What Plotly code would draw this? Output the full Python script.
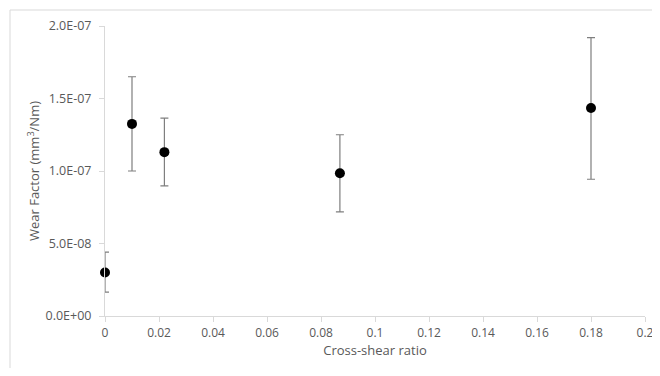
import plotly.graph_objects as go

cross_shear = [0.0, 0.01, 0.022, 0.087, 0.18]
wear_factor = [3.0e-8, 1.325e-7, 1.13e-7, 9.85e-8, 1.435e-7]
err_upper = [4.4e-8, 1.65e-7, 1.365e-7, 1.25e-7, 1.92e-7]
err_lower = [1.65e-8, 1.0e-7, 8.97e-8, 7.18e-8, 9.43e-8]

x_ticks = [0, 0.02, 0.04, 0.06, 0.08, 0.1, 0.12, 0.14, 0.16, 0.18, 0.2]
x_labels = ["0", "0.02", "0.04", "0.06", "0.08", "0.1", "0.12", "0.14", "0.16", "0.18", "0.2"]
y_ticks = [0, 5e-8, 1e-7, 1.5e-7, 2e-7]
y_labels = ["0.0E+00", "5.0E-08", "1.0E-07", "1.5E-07", "2.0E-07"]

plus = [u - v for u, v in zip(err_upper, wear_factor)]
minus = [v - l for v, l in zip(wear_factor, err_lower)]

font = "Open Sans, Liberation Sans, sans-serif"
fig = go.Figure()
fig.add_trace(go.Scatter(
    x=cross_shear, y=wear_factor, mode="markers",
    marker=dict(color="black", size=10),
    error_y=dict(type="data", symmetric=False, array=plus, arrayminus=minus,
                 color="#7f7f7f", thickness=1.2, width=4),
    cliponaxis=False, showlegend=False,
))

# page body has an 8px margin, so the figure is sized/offset to compensate
fig.update_layout(
    width=652, height=360,
    margin=dict(l=97, r=15, t=18, b=52),
    paper_bgcolor="white", plot_bgcolor="white",
    font=dict(family=font, size=12, color="#595959"),
    xaxis=dict(range=[0, 0.2], tickvals=x_ticks, ticktext=x_labels, automargin=False,
               showgrid=False, zeroline=False, showline=True, linecolor="#d9d9d9",
               linewidth=1, ticks="outside", ticklen=5, tickcolor="#d9d9d9",
               ticklabelstandoff=1, ticklabeloverflow="allow",
               tickfont=dict(size=12, color="#595959"),
               title=dict(text="Cross-shear ratio", font=dict(size=13, color="#595959"), standoff=2)),
    yaxis=dict(range=[0, 2e-7], tickvals=y_ticks, ticktext=y_labels, automargin=False,
               showgrid=False, zeroline=False, showline=True, linecolor="#d9d9d9",
               linewidth=1, ticks="outside", ticklen=5, tickcolor="#d9d9d9",
               ticklabelstandoff=5,
               tickfont=dict(size=12.5, color="#595959"),
               title=dict(text="Wear Factor (mm<sup>3</sup>/Nm)", font=dict(size=13, color="#595959"), standoff=2)),
    shapes=[dict(type="rect", xref="paper", yref="paper",
                 x0=(2 - 97) / 540, x1=1.2, y0=-0.4, y1=1 + 16 / 290,
                 line=dict(color="#d9d9d9", width=1), fillcolor="rgba(0,0,0,0)", layer="below")],
)

fig.write_html("out.html")
